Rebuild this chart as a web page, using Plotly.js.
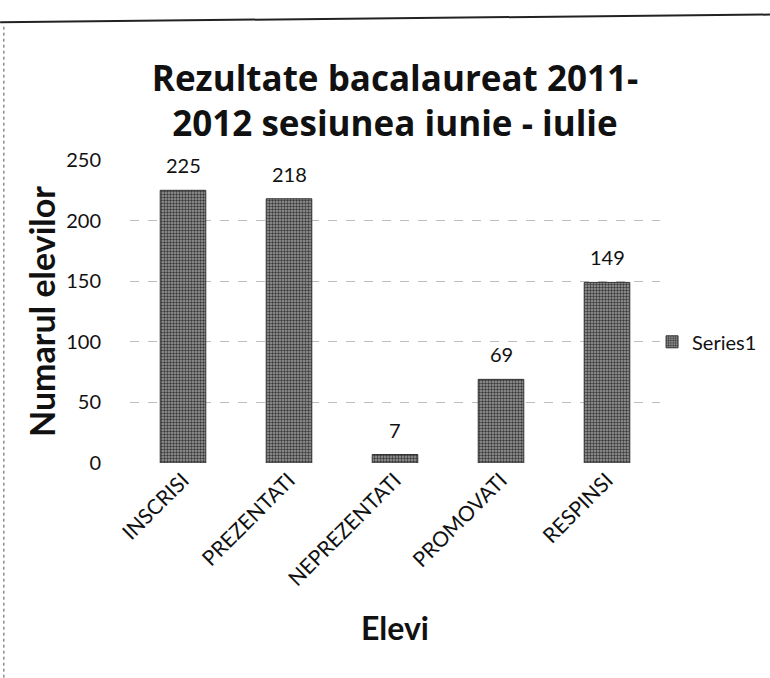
<!DOCTYPE html>
<html><head><meta charset="utf-8">
<script src="https://cdn.plot.ly/plotly-3.0.1.min.js"></script>
<style>html,body{margin:0;padding:0;background:#fff;}#chart{width:770px;height:678px;}</style>
</head><body><div id="chart"></div>
<script>
const categories = ["INSCRISI", "PREZENTATI", "NEPREZENTATI", "PROMOVATI", "RESPINSI"];
const values = [225, 218, 7, 69, 149];
const seriesName = "Series1";
const yTicks = [0, 50, 100, 150, 200, 250];

const FONT = "Lato, 'Open Sans', sans-serif";
const TFONT = "'Open Sans', Lato, sans-serif";

const trace = {
  type: "bar",
  x: categories,
  y: values,
  name: seriesName,
  showlegend: true,
  width: 0.43,
  marker: {
    color: "#8a8a8a",
    line: {color: "#333", width: 1},
    pattern: {shape: ".", fgcolor: "#3a3a3a", bgcolor: "#9e9e9e", size: 3, solidity: 0.5}
  }
};

const labels = categories.map((c, i) => ({
  x: c, y: values[i], xref: "x", yref: "y",
  text: String(values[i]), showarrow: false,
  yanchor: "bottom", yshift: 11,
  font: {family: FONT, size: 20, color: "#111"}
}));

const layout = {
  width: 770, height: 678,
  paper_bgcolor: "#fff", plot_bgcolor: "#fff",
  margin: {l: 130, r: 110, t: 160, b: 215, autoexpand: false},
  font: {family: FONT, color: "#111"},
  title: {
    text: "<b>Rezultate bacalaureat 2011-<br>2012 sesiunea iunie - iulie</b>",
    font: {family: TFONT, size: 35, color: "#111"},
    x: 0.5, xref: "paper", xanchor: "center",
    y: 0.866, yref: "container", yanchor: "top"
  },
  xaxis: {
    type: "category",
    tickangle: -45,
    tickfont: {family: FONT, size: 21, color: "#111"},
    showline: false, showgrid: false, zeroline: false,
    ticks: "",
    title: {text: "<b>Elevi</b>", font: {family: FONT, size: 32, color: "#111"}, standoff: 28}
  },
  yaxis: {
    range: [0, 250],
    tickvals: yTicks,
    ticktext: yTicks.map(String),
    tickfont: {family: FONT, size: 20, color: "#111"},
    ticklabelstandoff: 28,
    showline: false, zeroline: false,
    showgrid: true, gridcolor: "#bdbdbd", griddash: "dash", gridwidth: 1,
    title: {text: "<b>Numarul elevilor</b>", font: {family: FONT, size: 34, color: "#111"}, standoff: 0}
  },
  legend: {
    x: 0.985, xanchor: "left", y: 0.4, yanchor: "middle",
    font: {family: FONT, size: 20, color: "#111"},
    bgcolor: "rgba(0,0,0,0)", itemwidth: 30
  },
  annotations: labels,
  shapes: [
    {type: "line", xref: "paper", yref: "paper", x0: -0.245, x1: 1.208, y0: 1.455, y1: 1.48,
     line: {color: "#222", width: 2}},
    {type: "line", xref: "paper", yref: "paper", x0: -0.238, x1: -0.238, y0: 1.44, y1: -0.71,
     line: {color: "#555", width: 1, dash: "dot"}}
  ]
};

Plotly.newPlot("chart", [trace], layout, {displayModeBar: false, staticPlot: true});
</script>
</body></html>
